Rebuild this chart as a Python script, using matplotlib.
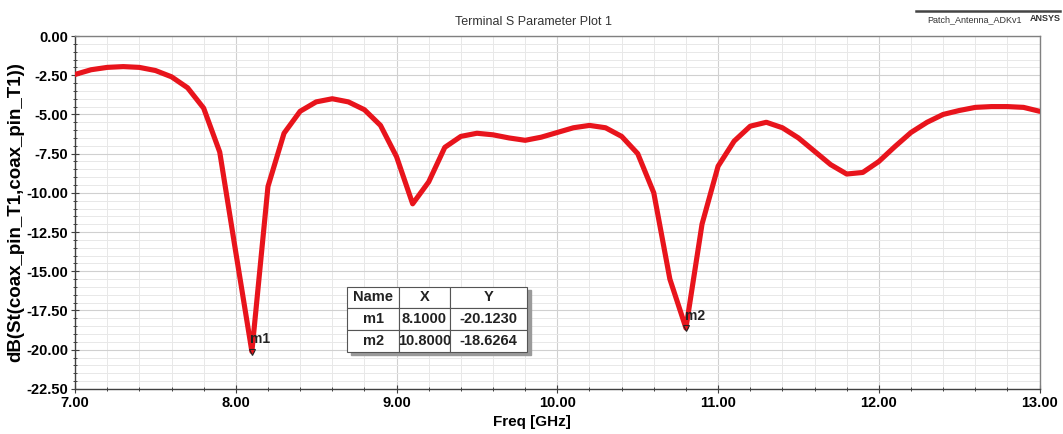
import matplotlib
matplotlib.use("Agg")
import matplotlib.pyplot as plt
from matplotlib.ticker import MultipleLocator, FormatStrFormatter

plt.rcParams['font.family'] = ['Liberation Sans', 'DejaVu Sans']

freq_ghz = [7.0, 7.1, 7.2, 7.3, 7.4, 7.5, 7.6, 7.7, 7.8, 7.9,
            8.0, 8.1, 8.2, 8.3, 8.4, 8.5, 8.6, 8.7, 8.8, 8.9,
            9.0, 9.1, 9.2, 9.3, 9.4, 9.5, 9.6, 9.7, 9.8, 9.9,
            10.0, 10.1, 10.2, 10.3, 10.4, 10.5, 10.6, 10.7, 10.8, 10.9,
            11.0, 11.1, 11.2, 11.3, 11.4, 11.5, 11.6, 11.7, 11.8, 11.9,
            12.0, 12.1, 12.2, 12.3, 12.4, 12.5, 12.6, 12.7, 12.8, 12.9,
            13.0]
s11_db = [-2.45, -2.15, -2.0, -1.95, -2.0, -2.2, -2.6, -3.3, -4.6, -7.4,
          -13.8, -20.123, -9.6, -6.2, -4.8, -4.2, -4.0, -4.2, -4.7, -5.7,
          -7.7, -10.7, -9.3, -7.1, -6.4, -6.2, -6.3, -6.5, -6.65, -6.45,
          -6.15, -5.85, -5.7, -5.85, -6.4, -7.5, -10.0, -15.5, -18.6264, -12.0,
          -8.3, -6.7, -5.75, -5.5, -5.85, -6.5, -7.35, -8.2, -8.8, -8.7,
          -8.0, -7.05, -6.15, -5.5, -5.0, -4.75, -4.55, -4.5, -4.5, -4.55,
          -4.8]

marker_names = ["m1", "m2"]
marker_x = [8.1, 10.8]
marker_y = [-20.1230, -18.6264]
table_header = ["Name", "X", "Y"]

fig = plt.figure(figsize=(10.63, 4.34), dpi=100)
ax = fig.add_axes([0.0706, 0.104, 0.9074, 0.813])

ax.plot(freq_ghz, s11_db, color='#e8141c', lw=3.7, solid_joinstyle='round',
        solid_capstyle='round', zorder=3)

ax.set_xlim(7.0, 13.0)
ax.set_ylim(-22.5, 0.0)
ax.xaxis.set_major_locator(MultipleLocator(1.0))
ax.xaxis.set_minor_locator(MultipleLocator(0.2))
ax.yaxis.set_major_locator(MultipleLocator(2.5))
ax.yaxis.set_minor_locator(MultipleLocator(0.5))
ax.xaxis.set_major_formatter(FormatStrFormatter('%.2f'))
ax.yaxis.set_major_formatter(FormatStrFormatter('%.2f'))

ax.grid(True, which='major', color='#d0d0d0', lw=0.8, zorder=0)
ax.grid(True, which='minor', color='#e8e8e8', lw=0.7, zorder=0)
ax.set_axisbelow(True)

for sp in ax.spines.values():
    sp.set_color('#808080')
    sp.set_linewidth(1.0)
ax.spines['left'].set_color('#404040')
ax.spines['bottom'].set_color('#404040')

ax.tick_params(which='major', direction='inout', length=6, width=0.8, color='#404040',
               labelsize=10.5, pad=2)
ax.tick_params(which='minor', direction='inout', length=3, width=0.7, color='#404040')
ax.tick_params(axis='x', which='both', top=False)
ax.tick_params(axis='y', which='both', right=False)
for lab in ax.get_xticklabels() + ax.get_yticklabels():
    lab.set_fontweight('bold')

ax.set_xlabel('Freq [GHz]', fontsize=11, fontweight='bold', labelpad=2)
ax.xaxis.set_label_coords(0.474, -0.075)
ax.set_ylabel('dB(St(coax_pin_T1,coax_pin_T1))', fontsize=13.5, fontweight='bold', labelpad=1)

fig.text(0.502, 0.95, 'Terminal S Parameter Plot 1', fontsize=9, ha='center', va='center',
         color='#333333')

# top-right project tag
fig.add_artist(plt.Line2D([0.862, 0.997], [0.974, 0.974], color='#444444', lw=1.8))
fig.text(0.917, 0.955, 'Patch_Antenna_ADKv1', fontsize=6.5, ha='center', va='center', color='#333333')
fig.text(0.983, 0.957, 'ANSYS', fontsize=6.5, ha='center', va='center', color='#333333',
         fontweight='bold')

# markers
for name, mx, my in zip(marker_names, marker_x, marker_y):
    ax.plot([mx], [my], marker='v', ms=4, mfc='none', mec='#222222', mew=0.8, zorder=4)
    ax.annotate(name, (mx, my), xytext=(-1, 4), textcoords='offset points',
                fontsize=10, fontweight='bold', color='#222222', ha='left', va='bottom', zorder=5)

# marker table
cells = [[n, f"{x:.4f}", f"{y:.4f}"] for n, x, y in zip(marker_names, marker_x, marker_y)]
tbl_bbox = [0.282, 0.105, 0.1865, 0.185]
shadow = plt.Rectangle((tbl_bbox[0] + 0.004, tbl_bbox[1] - 0.01), tbl_bbox[2], tbl_bbox[3],
                       transform=ax.transAxes, color='#9a9a9a', zorder=5)
ax.add_patch(shadow)
tbl = ax.table(cellText=cells, colLabels=table_header, cellLoc='center',
               bbox=tbl_bbox, colWidths=[0.29, 0.28, 0.43], zorder=6)
tbl.auto_set_font_size(False)
for (r, c), cell in tbl.get_celld().items():
    cell.set_edgecolor('#555555')
    cell.set_linewidth(0.8)
    cell.set_facecolor('white')
    cell.PAD = 0.02
    cell.get_text().set_fontsize(10.5)
    cell.get_text().set_fontweight('bold')
    cell.get_text().set_color('#222222')
    cell.set_zorder(6)

fig.savefig('out.png', dpi=100)
